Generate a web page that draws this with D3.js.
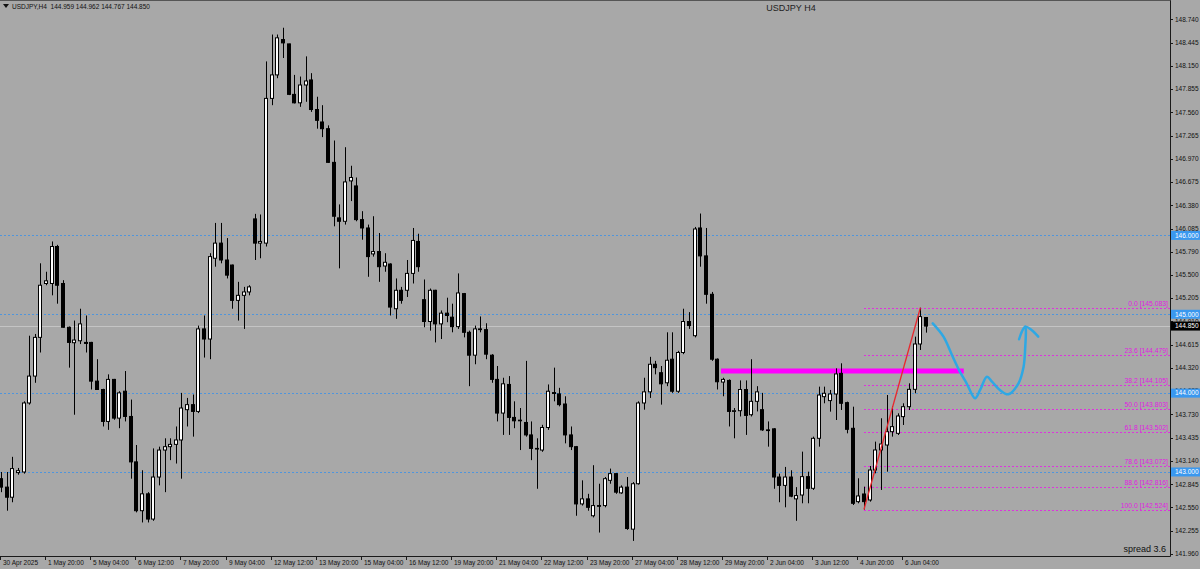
<!DOCTYPE html>
<html>
<head>
<meta charset="utf-8">
<script src="https://cdn.jsdelivr.net/npm/d3@7"></script>
<style>
  html, body { margin: 0; padding: 0; background: #a8a8a8; }
  svg { display: block; font-family: "Liberation Sans", Arial, sans-serif; }
</style>
</head>
<body>
<div id="chart"></div>
<script>
// USDJPY H4 bars (oldest first)
var opens = [142.915,142.808,142.680,142.992,143.000,143.875,144.216,144.707,145.390,145.390,
  145.859,145.390,144.835,144.639,144.664,144.643,144.643,144.152,144.046,143.641,
  144.174,143.683,144.024,143.704,143.128,142.509,142.723,142.403,142.936,143.278,
  143.321,143.350,143.406,143.790,143.854,143.768,144.814,144.686,145.710,145.902,
  145.688,145.624,145.176,145.240,145.283,146.209,145.902,145.902,147.737,148.035,
  148.483,148.428,147.788,147.681,147.907,147.971,147.596,147.438,147.353,146.926,
  146.222,146.179,146.691,146.627,146.200,146.094,145.765,145.795,145.612,145.637,
  145.070,145.304,145.304,145.518,145.923,145.185,144.908,145.304,144.878,145.014,
  144.963,144.843,145.262,144.771,144.481,144.814,144.805,144.481,144.174,143.747,
  144.110,143.692,143.649,143.628,143.470,143.299,143.278,143.564,144.007,143.990,
  143.862,143.470,143.321,142.595,142.659,142.445,142.574,142.574,142.894,142.979,
  142.735,142.808,142.275,142.851,143.875,144.016,144.366,144.259,144.131,144.430,
  144.024,144.515,144.908,144.728,146.094,145.740,145.253,144.430,144.140,144.161,
  143.768,143.777,144.046,143.726,143.896,143.790,143.534,143.547,142.936,142.830,
  142.936,142.659,142.708,142.941,142.793,143.427,143.955,143.905,143.989,144.251,
  143.879,143.554,142.624,142.721,142.645,143.025,143.279,143.342,143.511,143.490,
  143.702,143.828,144.048,144.623,144.959];
var highs = [143.000,143.000,143.192,143.051,143.896,144.728,144.750,145.646,145.539,145.923,
  145.880,145.432,144.845,144.920,145.070,144.984,144.650,144.430,144.055,144.238,
  144.180,144.024,144.280,143.918,143.342,143.022,142.744,143.299,143.321,143.427,
  143.427,143.577,144.003,143.939,143.982,144.856,144.984,145.774,146.158,146.158,
  145.966,145.630,145.411,145.347,145.368,146.273,146.265,148.206,148.547,148.547,
  148.633,148.430,148.035,148.014,148.270,148.057,147.758,147.651,147.395,147.203,
  146.393,147.118,146.883,146.734,146.307,146.137,146.243,146.030,145.774,145.646,
  145.454,145.347,145.688,146.094,146.021,145.441,145.326,145.310,145.048,145.210,
  145.134,145.518,145.270,144.792,144.856,144.972,144.886,144.494,144.344,144.195,
  144.216,143.896,143.811,144.409,143.641,143.427,143.598,144.110,144.323,144.067,
  143.960,143.577,143.330,142.894,142.723,143.086,142.851,142.936,143.043,142.985,
  142.830,142.936,142.872,143.896,144.195,144.460,144.409,144.344,144.771,144.771,
  144.536,145.070,145.027,146.107,146.277,146.094,145.283,144.440,144.195,144.174,
  143.811,144.161,144.161,144.430,144.088,144.003,143.641,143.555,142.979,143.064,
  143.022,142.808,143.258,143.004,143.448,144.082,144.082,144.040,144.315,144.378,
  143.892,143.828,142.920,142.814,143.076,143.385,143.681,143.976,143.837,143.744,
  143.871,144.124,144.716,145.083,144.962];
var lows = [142.744,142.509,142.616,142.966,142.979,143.854,144.131,144.515,145.368,145.240,
  145.134,144.830,144.323,143.726,144.622,144.515,144.046,144.040,143.577,143.534,
  143.662,143.555,143.641,142.915,142.488,142.360,142.360,142.381,142.830,142.744,
  143.150,143.107,142.915,143.577,143.448,143.747,144.451,144.430,145.603,145.646,
  145.454,145.070,144.920,144.814,145.240,145.688,145.710,145.859,147.651,147.993,
  148.249,147.779,147.673,147.630,147.694,147.566,147.353,147.246,146.920,146.115,
  145.582,146.137,146.435,146.179,145.945,145.475,145.731,145.411,145.539,144.984,
  144.942,145.134,145.219,145.390,145.539,144.835,144.792,144.643,144.686,144.899,
  144.771,144.814,144.707,144.088,144.366,144.771,144.430,144.131,143.641,143.470,
  143.470,143.555,143.278,143.448,143.150,142.787,143.256,143.534,143.896,143.832,
  143.363,143.278,142.445,142.574,142.509,142.424,142.232,142.552,142.851,142.723,
  142.723,142.266,142.126,142.840,143.790,143.939,144.238,143.854,144.088,144.003,
  144.003,144.494,144.814,144.707,145.603,145.134,144.409,144.046,143.960,143.577,
  143.427,143.704,143.470,143.704,143.768,143.521,143.321,142.787,142.616,142.552,
  142.680,142.381,142.603,142.603,142.772,143.321,143.871,143.765,143.659,143.786,
  143.490,142.581,142.603,142.524,142.624,142.983,142.772,143.004,143.448,143.469,
  143.596,143.786,143.998,144.547,144.767];
var closes = [142.808,142.680,143.043,143.017,143.875,144.216,144.707,145.368,145.424,145.859,
  145.368,144.835,144.643,144.673,144.878,144.630,144.152,144.046,143.641,144.174,
  143.683,144.003,143.704,143.128,142.509,142.723,142.403,142.936,143.278,143.321,
  143.350,143.406,143.811,143.854,143.768,144.814,144.686,145.731,145.902,145.688,
  145.496,145.176,145.240,145.283,145.347,145.902,145.923,147.737,148.035,148.505,
  148.441,147.788,147.681,147.907,147.958,147.596,147.459,147.353,146.926,146.243,
  146.179,146.678,146.734,146.200,146.094,145.731,145.795,145.603,145.659,145.091,
  145.304,145.176,145.518,145.936,145.603,144.908,145.304,144.878,145.014,144.984,
  144.843,145.270,144.771,144.481,144.814,144.805,144.494,144.174,143.747,144.118,
  143.692,143.649,143.657,143.470,143.299,143.291,143.564,144.024,143.995,143.854,
  143.470,143.321,142.595,142.659,142.552,142.574,142.565,142.915,142.979,142.744,
  142.808,142.283,142.851,143.875,144.016,144.366,144.323,144.118,144.417,144.024,
  144.515,144.908,144.856,146.081,145.740,145.253,144.430,144.144,144.174,143.768,
  143.777,144.046,143.717,143.896,144.016,143.534,143.525,142.936,142.830,142.936,
  142.693,142.701,142.941,142.793,143.427,143.976,143.998,143.989,144.243,143.871,
  143.541,142.603,142.696,142.624,143.025,143.279,143.355,143.511,143.575,143.710,
  143.828,144.048,144.623,144.970,144.850];

// axis labels
var priceTicks = [148.740,148.445,148.150,147.855,147.560,147.265,146.970,146.675,146.380,146.085,
  145.790,145.500,145.205,144.910,144.615,144.320,144.025,143.730,143.435,143.140,
  142.845,142.550,142.255,141.960];
var timeTicks = ["30 Apr 2025","1 May 20:00","5 May 04:00","6 May 12:00","7 May 20:00","9 May 04:00",
  "12 May 12:00","13 May 20:00","15 May 04:00","16 May 12:00","19 May 20:00","21 May 04:00",
  "22 May 12:00","23 May 20:00","27 May 04:00","28 May 12:00","29 May 20:00","2 Jun 04:00",
  "3 Jun 12:00","4 Jun 20:00","6 Jun 04:00"];
var barsPerTick = 8;

// drawn objects
var levelLines = [146.000, 145.000, 144.000, 143.000];
var lastPrice = 144.850;
var zone = {price: 144.28, from: 128, to: 170.7};
var fibLow = {bar: 153, price: 142.524}, fibHigh = {bar: 163, price: 145.083};
var fibLevels = [0.0, 23.6, 38.2, 50.0, 61.8, 78.6, 88.6, 100.0];
var sketch = [[165.2,144.885],[167.1,144.716],[168.6,144.483],[170.0,144.272],[171.2,144.125],
  [172.7,143.934],[173.6,144.040],[174.8,144.208],[175.7,144.145],[177.1,144.040],
  [178.6,143.985],[180.4,144.125],[181.3,144.335],[181.6,144.589],[181.7,144.801],[181.6,144.842]];
var sketchHead = [[180.5,144.683],[181.6,144.842],[182.7,144.801],[183.9,144.716]];

var width = 1200, height = 569,
    plotRight = 1170, plotBottom = 556;

var svg = d3.select('#chart').append('svg')
    .attr('width', width)
    .attr('height', height);

svg.append('rect').attr('width', width).attr('height', height).attr('fill', '#a8a8a8');

var x = d3.scaleLinear().domain([0, opens.length - 1]).range([1, 926]);
var y = d3.scaleLinear().domain([141.960, 148.740]).range([554, 19.3]);

var plot = svg.append('g');

// horizontal price levels
plot.selectAll('line.level')
  .data(levelLines)
  .enter().append('line')
    .attr('x1', 0).attr('x2', plotRight)
    .attr('y1', function(d) { return Math.round(y(d)) + 0.5; })
    .attr('y2', function(d) { return Math.round(y(d)) + 0.5; })
    .attr('stroke', '#4f95dc')
    .attr('stroke-dasharray', '2,2')
    .attr('shape-rendering', 'crispEdges');

plot.append('line')
    .attr('x1', 0).attr('x2', plotRight)
    .attr('y1', Math.round(y(lastPrice)) + 0.5).attr('y2', Math.round(y(lastPrice)) + 0.5)
    .attr('stroke', '#c4c4c4')
    .attr('shape-rendering', 'crispEdges');

// fibo levels
var fibRange = fibHigh.price - fibLow.price;
var fib = plot.selectAll('g.fib')
  .data(fibLevels)
  .enter().append('g');
fib.append('line')
    .attr('x1', Math.round(x(fibLow.bar))).attr('x2', plotRight)
    .attr('y1', function(d) { return Math.round(y(fibHigh.price - fibRange * d / 100)) + 0.5; })
    .attr('y2', function(d) { return Math.round(y(fibHigh.price - fibRange * d / 100)) + 0.5; })
    .attr('stroke', '#dd33dd')
    .attr('stroke-dasharray', '2,2')
    .attr('shape-rendering', 'crispEdges');
fib.append('text')
    .attr('x', 1168)
    .attr('y', function(d) { return y(fibHigh.price - fibRange * d / 100) - 2; })
    .attr('text-anchor', 'end')
    .attr('font-size', '6.8px')
    .attr('fill', '#e020e0')
    .text(function(d) { return d.toFixed(1) + ' [' + (fibHigh.price - fibRange * d / 100).toFixed(3) + ']'; });

// magenta zone line
plot.append('line')
    .attr('x1', x(zone.from) - 2).attr('x2', x(zone.to))
    .attr('y1', y(zone.price)).attr('y2', y(zone.price))
    .attr('stroke', '#ff00ff')
    .attr('stroke-width', 5);

// candles
var bars = d3.range(opens.length);
var candle = plot.selectAll('g.candle')
  .data(bars)
  .enter().append('g');
candle.append('line')
    .attr('x1', function(i) { return Math.round(x(i)) + 0.5; })
    .attr('x2', function(i) { return Math.round(x(i)) + 0.5; })
    .attr('y1', function(i) { return y(highs[i]); })
    .attr('y2', function(i) { return y(lows[i]); })
    .attr('stroke', '#000');
candle.append('rect')
    .attr('x', function(i) { return Math.round(x(i)) - 1.5; })
    .attr('width', 3)
    .attr('y', function(i) { return y(Math.max(opens[i], closes[i])); })
    .attr('height', function(i) { return Math.max(0.5, Math.abs(y(opens[i]) - y(closes[i]))); })
    .attr('fill', function(i) { return closes[i] >= opens[i] ? '#fff' : '#000'; })
    .attr('stroke', '#000');

// fibo trend line
plot.append('line')
    .attr('x1', x(fibLow.bar)).attr('y1', y(fibLow.price))
    .attr('x2', x(fibHigh.bar)).attr('y2', y(fibHigh.price))
    .attr('stroke', '#e8282e')
    .attr('stroke-width', 1.3);

// hand drawn forecast
var sketchLine = d3.line()
    .x(function(d) { return x(d[0]); })
    .y(function(d) { return y(d[1]); })
    .curve(d3.curveCatmullRom);
plot.append('path').datum(sketch)
    .attr('d', sketchLine)
    .attr('fill', 'none').attr('stroke', '#2ea8e4')
    .attr('stroke-width', 2.5).attr('stroke-linecap', 'round').attr('stroke-linejoin', 'round');
plot.append('path').datum(sketchHead)
    .attr('d', sketchLine)
    .attr('fill', 'none').attr('stroke', '#2ea8e4')
    .attr('stroke-width', 2.5).attr('stroke-linecap', 'round').attr('stroke-linejoin', 'round');

// frame
svg.append('line').attr('x1', plotRight + 0.5).attr('x2', plotRight + 0.5)
    .attr('y1', 0).attr('y2', plotBottom + 0.5).attr('stroke', '#1a1a1a');
svg.append('line').attr('x1', 0).attr('x2', plotRight + 0.5)
    .attr('y1', plotBottom + 0.5).attr('y2', plotBottom + 0.5).attr('stroke', '#1a1a1a');
svg.append('line').attr('x1', 0).attr('x2', plotRight + 0.5)
    .attr('y1', 0.5).attr('y2', 0.5).attr('stroke', '#555');

// price axis
var pAxis = svg.append('g');
pAxis.selectAll('line')
  .data(priceTicks)
  .enter().append('line')
    .attr('x1', plotRight).attr('x2', plotRight + 3)
    .attr('y1', function(d) { return Math.round(y(d)) + 0.5; })
    .attr('y2', function(d) { return Math.round(y(d)) + 0.5; })
    .attr('stroke', '#1a1a1a');
pAxis.selectAll('text')
  .data(priceTicks)
  .enter().append('text')
    .attr('x', plotRight + 5)
    .attr('y', function(d) { return y(d) + 2.3; })
    .attr('font-size', '6.5px')
    .attr('fill', '#111')
    .text(function(d) { return d.toFixed(3); });

// price labels for the drawn lines
var tags = levelLines.map(function(d) { return {price: d, bg: '#3a98ef'}; })
    .concat([{price: lastPrice, bg: '#000'}]);
var tag = svg.selectAll('g.tag')
  .data(tags)
  .enter().append('g');
tag.append('rect')
    .attr('x', plotRight + 1).attr('width', 29)
    .attr('y', function(d) { return y(d.price) - 4.5; })
    .attr('height', 9)
    .attr('fill', function(d) { return d.bg; });
tag.append('text')
    .attr('x', plotRight + 5)
    .attr('y', function(d) { return y(d.price) + 2.3; })
    .attr('font-size', '6.5px')
    .attr('fill', '#fff')
    .text(function(d) { return d.price.toFixed(3); });

// time axis
var tAxis = svg.append('g');
tAxis.selectAll('line')
  .data(timeTicks)
  .enter().append('line')
    .attr('x1', function(d, i) { return Math.round(x(i * barsPerTick)) - 0.5; })
    .attr('x2', function(d, i) { return Math.round(x(i * barsPerTick)) - 0.5; })
    .attr('y1', plotBottom).attr('y2', plotBottom + 4)
    .attr('stroke', '#1a1a1a');
tAxis.selectAll('text')
  .data(timeTicks)
  .enter().append('text')
    .attr('x', function(d, i) { return Math.round(x(i * barsPerTick)) + 2; })
    .attr('y', 565)
    .attr('font-size', '6.5px')
    .attr('fill', '#111')
    .text(function(d) { return d; });

// header texts
svg.append('path').attr('d', 'M3,4 L9,4 L6,8 Z').attr('fill', '#111');
svg.append('text').attr('x', 12).attr('y', 8.5)
    .attr('font-size', '6.5px').attr('fill', '#111')
    .attr('xml:space', 'preserve')
    .text('USDJPY,H4  ' + [opens[opens.length - 1], highs[highs.length - 1], lows[lows.length - 1], closes[closes.length - 1]]
      .map(function(d) { return d.toFixed(3); }).join(' '));
svg.append('text').attr('x', 791).attr('y', 11)
    .attr('text-anchor', 'middle')
    .attr('font-size', '9px').attr('fill', '#222')
    .text('USDJPY H4');
svg.append('text').attr('x', 1166).attr('y', 552)
    .attr('text-anchor', 'end')
    .attr('font-size', '9px').attr('fill', '#111')
    .text('spread 3.6');
</script>
</body>
</html>
